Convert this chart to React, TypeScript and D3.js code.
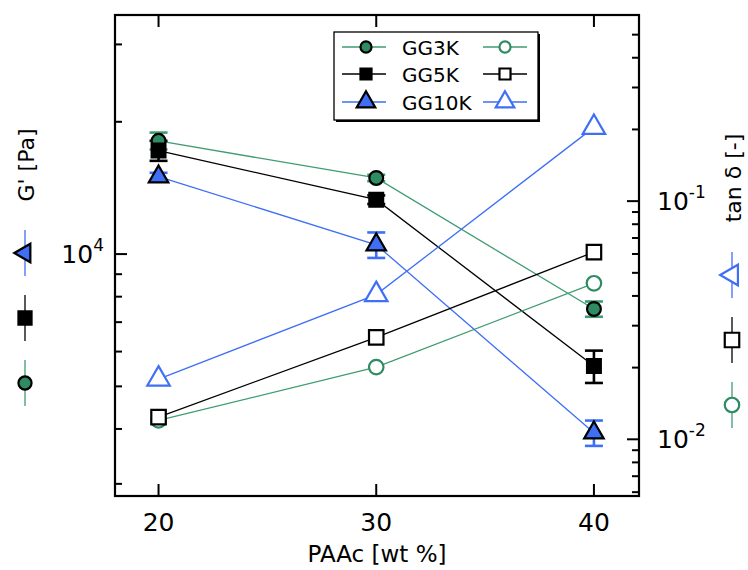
import * as d3 from "d3";

// PAAc content [wt %]
const paac = [20, 30, 40];
const xTickValues = [20, 30, 40];
const seriesNames = ["GG3K", "GG5K", "GG10K"];

// storage modulus G' [Pa] (filled symbols, left axis)
const gGG3K = [18100, 14900, 7500];
const gGG3KErr = [800, 250, 300];
const gGG5K = [17200, 13300, 5560];
const gGG5KErr = [900, 300, 470];
const gGG10K = [15000, 10500, 3920];
const gGG10KErr = [310, 700, 260];

// loss tangent tan δ [-] (open symbols, right axis)
const tanGG3K = [0.012, 0.0201, 0.0452];
const tanGG5K = [0.0124, 0.0268, 0.0611];
const tanGG10K = [0.0179, 0.0405, 0.204];

const W = 748;
const H = 570;
const frame = { left: 115, right: 639, top: 15, bottom: 496 };
const font = "'DejaVu Sans', sans-serif";

const green = "#2e8b62";
const greenLine = "#3f9c72";
const blue = "#3e6ff5";

const x = d3.scaleLinear().domain([18, 42.07]).range([frame.left, frame.right]);
const yL = d3.scaleLog().domain([2815, 35000]).range([frame.bottom, frame.top]);
const yR = d3.scaleLog().domain([10 ** -2.238, 10 ** -0.2185]).range([frame.bottom, frame.top]);

const kinds = ["circle", "square", "triangle"];
const colors = [green, "#000", blue];
const lineColors = [greenLine, "#000", blue];

function symPath(kind: string, scale = 1) {
  const type = kind === "circle" ? d3.symbolCircle : kind === "square" ? d3.symbolSquare : d3.symbolTriangle;
  const size = kind === "circle" ? 150 : kind === "square" ? 190 : 165;
  return d3.symbol().type(type).size(size * scale * scale)() as string;
}

function Marker({ kind, i, open, cx, cy, rot = 0, scale = 1 }: any) {
  const filled = kind === "square" ? "#000" : colors[i];
  return (
    <path
      d={symPath(kind, scale)}
      transform={`translate(${cx},${cy}) rotate(${rot})`}
      fill={open ? "#fff" : filled}
      stroke={open ? colors[i] : "#000"}
      strokeWidth={2.2}
    />
  );
}

export default function App() {
  const gData = [gGG3K, gGG5K, gGG10K];
  const gErr = [gGG3KErr, gGG5KErr, gGG10KErr];
  const tData = [tanGG3K, tanGG5K, tanGG10K];

  const lineL = d3.line<number>().x((_, j) => x(paac[j])).y((d) => yL(d));
  const lineR = d3.line<number>().x((_, j) => x(paac[j])).y((d) => yR(d));

  const [lo, hi] = yL.domain();
  const leftTicks = yL.ticks().filter((t) => t > lo && t < hi);
  const [rlo, rhi] = yR.domain();
  const rightTicks = yR.ticks().filter((t) => t > rlo && t < rhi * 0.99);
  const isMajor = (t: number) => Math.abs(Math.log10(t) - Math.round(Math.log10(t))) < 1e-6;

  const legendRows = [47, 74, 102];
  const sideL = [383, 318, 253];
  const sideR = [405, 340, 275];

  return (
    <svg width={W} height={H} style={{ position: "absolute", left: 0, top: 0, fontFamily: font }}>
      <rect width={W} height={H} fill="#fff" />

      {/* connecting lines */}
      {gData.map((d, i) => (
        <path key={"gl" + i} d={lineL(d) as string} fill="none" stroke={lineColors[i]} strokeWidth={1.3} />
      ))}
      {tData.map((d, i) => (
        <path key={"tl" + i} d={lineR(d) as string} fill="none" stroke={lineColors[i]} strokeWidth={1.3} />
      ))}

      {/* error bars */}
      {gData.map((d, i) =>
        d.map((v, j) => {
          const cx = x(paac[j]);
          const y1 = yL(v + gErr[i][j]);
          const y2 = yL(v - gErr[i][j]);
          return (
            <g key={"e" + i + j} stroke={lineColors[i]} strokeWidth={2.6}>
              <line x1={cx} x2={cx} y1={y1} y2={y2} />
              <line x1={cx - 9} x2={cx + 9} y1={y1} y2={y1} />
              <line x1={cx - 9} x2={cx + 9} y1={y2} y2={y2} />
            </g>
          );
        })
      )}

      {/* markers */}
      {tData.map((d, i) =>
        d.map((v, j) => <Marker key={"to" + i + j} kind={kinds[i]} i={i} open cx={x(paac[j])} cy={yR(v)} scale={i === 2 ? 1.15 : 1.05} />)
      )}
      {gData.map((d, i) =>
        d.map((v, j) => <Marker key={"gm" + i + j} kind={kinds[i]} i={i} cx={x(paac[j])} cy={yL(v)} />)
      )}

      {/* frame */}
      <rect x={frame.left} y={frame.top} width={frame.right - frame.left} height={frame.bottom - frame.top} fill="none" stroke="#000" strokeWidth={2.2} />

      {/* x ticks */}
      {xTickValues.map((t) => (
        <g key={"xt" + t}>
          <line x1={x(t)} x2={x(t)} y1={frame.bottom} y2={frame.bottom - 12} stroke="#000" strokeWidth={2} />
          <line x1={x(t)} x2={x(t)} y1={frame.top} y2={frame.top + 12} stroke="#000" strokeWidth={2} />
          <text x={x(t)} y={frame.bottom + 35} textAnchor="middle" fontSize={25}>
            {t}
          </text>
        </g>
      ))}
      <text x={(frame.left + frame.right) / 2} y={562} textAnchor="middle" fontSize={23}>
        PAAc [wt %]
      </text>

      {/* left ticks */}
      {leftTicks.map((t) => (
        <line key={"lt" + t} x1={frame.left} x2={frame.left + (isMajor(t) ? 12 : 7)} y1={yL(t)} y2={yL(t)} stroke="#000" strokeWidth={2} />
      ))}
      {leftTicks.filter(isMajor).map((t) => (
        <text key={"ll" + t} x={104} y={yL(t) + 9} textAnchor="end" fontSize={25}>
          10<tspan dy={-12} fontSize={17}>{Math.round(Math.log10(t))}</tspan>
        </text>
      ))}

      {/* right ticks */}
      {rightTicks.map((t) => (
        <line key={"rt" + t} x1={frame.right} x2={frame.right - (isMajor(t) ? 12 : 7)} y1={yR(t)} y2={yR(t)} stroke="#000" strokeWidth={2} />
      ))}
      {rightTicks.filter(isMajor).map((t) => (
        <text key={"rl" + t} x={657} y={yR(t) + 9} fontSize={25}>
          10<tspan dy={-12} fontSize={17}>{Math.round(Math.log10(t))}</tspan>
        </text>
      ))}

      {/* side legends */}
      <text transform={`translate(34,165) rotate(-90)`} textAnchor="middle" fontSize={22}>
        G' [Pa]
      </text>
      {sideL.map((cy, i) => (
        <g key={"sl" + i}>
          <line x1={25} x2={25} y1={cy - 23} y2={cy + 23} stroke={lineColors[i]} strokeWidth={1.3} />
          <Marker kind={kinds[i]} i={i} cx={25} cy={cy} rot={-90} scale={0.95} />
        </g>
      ))}
      <text transform={`translate(741,178) rotate(-90)`} textAnchor="middle" fontSize={22}>
        tan δ [-]
      </text>
      {sideR.map((cy, i) => (
        <g key={"sr" + i}>
          <line x1={732} x2={732} y1={cy - 23} y2={cy + 23} stroke={lineColors[i]} strokeWidth={1.3} />
          <Marker kind={kinds[i]} i={i} open cx={732} cy={cy} rot={-90} scale={1.05} />
        </g>
      ))}

      {/* legend box */}
      <rect x={336} y={34} width={204} height={88} fill="#000" />
      <rect x={334} y={32} width={204} height={88} fill="#fff" stroke="#000" strokeWidth={1.3} />
      {seriesNames.map((name, i) => (
        <g key={"lg" + i}>
          <line x1={342} x2={386} y1={legendRows[i]} y2={legendRows[i]} stroke={lineColors[i]} strokeWidth={1.3} />
          <Marker kind={kinds[i]} i={i} cx={366} cy={legendRows[i]} scale={i === 2 ? 0.95 : 0.8} />
          <text x={402} y={legendRows[i] + 8} fontSize={20}>
            {name}
          </text>
          <line x1={483} x2={527} y1={legendRows[i]} y2={legendRows[i]} stroke={lineColors[i]} strokeWidth={1.3} />
          <Marker kind={kinds[i]} i={i} open cx={505} cy={legendRows[i]} scale={i === 2 ? 0.95 : 0.8} />
        </g>
      ))}
    </svg>
  );
}
